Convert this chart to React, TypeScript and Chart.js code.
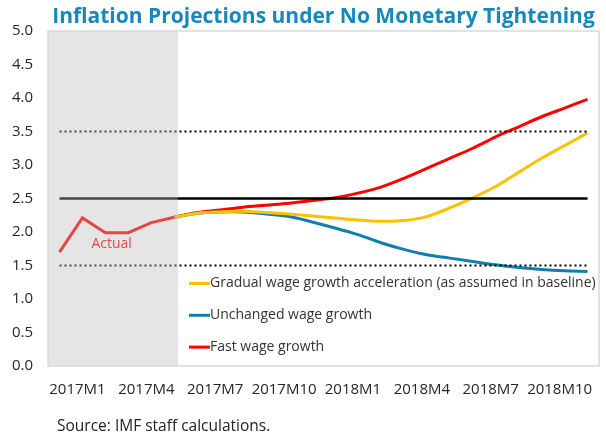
import { useEffect, useRef } from "react";
import { Chart, registerables } from "chart.js";

Chart.register(...registerables);

const months = [
  "2017M1", "2017M2", "2017M3", "2017M4", "2017M5", "2017M6",
  "2017M7", "2017M8", "2017M9", "2017M10", "2017M11", "2017M12",
  "2018M1", "2018M2", "2018M3", "2018M4", "2018M5", "2018M6",
  "2018M7", "2018M8", "2018M9", "2018M10", "2018M11", "2018M12",
];
const labelEvery = 3;

const actual = [1.70, 2.21, 1.99, 1.99, 2.14, 2.22, null, null, null, null, null, null, null, null, null, null, null, null, null, null, null, null, null, null];
const gradual = [null, null, null, null, null, 2.22, 2.28, 2.30, 2.31, 2.29, 2.27, 2.24, 2.21, 2.18, 2.16, 2.17, 2.23, 2.36, 2.51, 2.68, 2.89, 3.10, 3.29, 3.48];
const unchanged = [null, null, null, null, null, 2.22, 2.28, 2.30, 2.30, 2.27, 2.23, 2.15, 2.06, 1.96, 1.84, 1.74, 1.66, 1.61, 1.56, 1.51, 1.47, 1.44, 1.42, 1.41];
const fast = [null, null, null, null, null, 2.22, 2.29, 2.33, 2.37, 2.40, 2.43, 2.47, 2.51, 2.58, 2.67, 2.80, 2.95, 3.10, 3.25, 3.42, 3.57, 3.72, 3.85, 3.98];

const target = 2.5;
const bandLow = 1.5;
const bandHigh = 3.5;
const actualShadeEnd = 5.16; // category position where the "actual" shading stops

const titleText = "Inflation Projections under No Monetary Tightening";
const sourceText = "Source: IMF staff calculations.";
const actualText = "Actual";

const FONT = "'Open Sans', sans-serif";
const TITLE_COLOR = "#1788bb";
const YELLOW = "#ffc000";
const BLUE = "#127fab";
const RED = "#ff0000";

const decorPlugin = {
  id: "decor",
  beforeDraw(chart: any) {
    const { ctx } = chart;
    ctx.save();
    ctx.fillStyle = "#ffffff";
    ctx.fillRect(0, 0, chart.width, chart.height);
    ctx.restore();
  },
  afterDatasetsDraw(chart: any) {
    const { ctx, chartArea: a, scales } = chart;
    const x = scales.x;
    const y = scales.y;
    ctx.save();
    // "Actual" label
    ctx.fillStyle = RED;
    ctx.font = `14px ${FONT}`;
    ctx.textAlign = "left";
    ctx.textBaseline = "middle";
    ctx.fillText(actualText, x.getPixelForValue(1) + 9, y.getPixelForValue(1.82));
    // translucent shading of the actual period
    const xe = x.getPixelForValue(actualShadeEnd);
    ctx.fillStyle = "rgba(186,186,186,0.376)";
    ctx.fillRect(a.left, a.top, xe - a.left, a.bottom - a.top);
    // plot border
    ctx.strokeStyle = "#d9d9d9";
    ctx.lineWidth = 1.5;
    ctx.strokeRect(a.left, a.top, a.right - a.left, a.bottom - a.top);
    // title
    ctx.fillStyle = TITLE_COLOR;
    ctx.font = `bold 21px ${FONT}`;
    ctx.textAlign = "center";
    ctx.textBaseline = "alphabetic";
    ctx.fillText(titleText, (a.left + a.right) / 2, 23);
    // source
    ctx.fillStyle = "#222222";
    ctx.font = `15.5px ${FONT}`;
    ctx.textAlign = "left";
    ctx.textBaseline = "middle";
    ctx.fillText(sourceText, 57, 427);
    // legend
    const items = chart.data.datasets.filter((d: any) => d.inLegend);
    const lx = 189;
    const ly0 = 283.5;
    const lstep = 31.8;
    items.forEach((d: any, i: number) => {
      const ly = ly0 + i * lstep;
      ctx.strokeStyle = d.borderColor;
      ctx.lineWidth = 3;
      ctx.beginPath();
      ctx.moveTo(lx, ly);
      ctx.lineTo(lx + 21, ly);
      ctx.stroke();
      ctx.fillStyle = "#333333";
      ctx.font = `14px ${FONT}`;
      ctx.textAlign = "left";
      ctx.textBaseline = "middle";
      ctx.fillText(d.label, lx + 21, ly);
    });
    ctx.restore();
  },
};

export default function App() {
  const ref = useRef<HTMLCanvasElement>(null);
  useEffect(() => {
    if (!ref.current) return;
    const line = (label: string, data: any[], color: string, extra: any = {}) => ({
      label,
      data,
      borderColor: color,
      backgroundColor: color,
      borderWidth: 3,
      pointRadius: 0,
      tension: 0.35,
      fill: false,
      spanGaps: false,
      ...extra,
    });
    const chart = new Chart(ref.current, {
      type: "line",
      data: {
        labels: months,
        datasets: [
          line("Target", months.map(() => target), "#000000", { borderWidth: 2.5, tension: 0 }),
          line("Upper band", months.map(() => bandHigh), "#000000", { borderWidth: 2, borderDash: [2, 3], tension: 0 }),
          line("Lower band", months.map(() => bandLow), "#000000", { borderWidth: 2, borderDash: [2, 3], tension: 0 }),
          line("Actual", actual, RED, { tension: 0 }),
          { ...line("Gradual wage growth acceleration (as assumed in baseline)", gradual, YELLOW), inLegend: true },
          { ...line("Unchanged wage growth", unchanged, BLUE), inLegend: true },
          { ...line("Fast wage growth", fast, RED), inLegend: true },
        ] as any,
      },
      options: {
        animation: false,
        responsive: false,
        maintainAspectRatio: false,
        layout: { padding: { top: 31, right: 7, left: 0, bottom: 0 } },
        plugins: {
          legend: { display: false },
          title: { display: false },
          tooltip: { enabled: false },
        },
        scales: {
          x: {
            offset: true,
            grid: { display: false, drawTicks: false },
            border: { display: false },
            ticks: {
              autoSkip: false,
              maxRotation: 0,
              minRotation: 0,
              padding: 15,
              labelOffset: 18,
              color: "#262626",
              font: { family: FONT, size: 15 },
              callback: (_v: any, i: number) => (i % labelEvery === 0 ? months[i] : ""),
            },
            afterFit: (s: any) => { s.height = 74; },
          },
          y: {
            min: 0,
            max: 5,
            grid: { display: false, drawTicks: false },
            border: { display: false },
            ticks: {
              stepSize: 0.5,
              padding: 15,
              color: "#262626",
              font: { family: FONT, size: 15 },
              callback: (v: any) => Number(v).toFixed(1),
            },
            afterFit: (s: any) => { s.width = 48; },
          },
        },
      },
      plugins: [decorPlugin],
    });
    return () => chart.destroy();
  }, []);
  return (
    <div style={{ position: "fixed", left: 0, top: 0, width: 606, height: 440 }}>
      <canvas ref={ref} width={606} height={440} style={{ width: 606, height: 440 }} />
    </div>
  );
}
